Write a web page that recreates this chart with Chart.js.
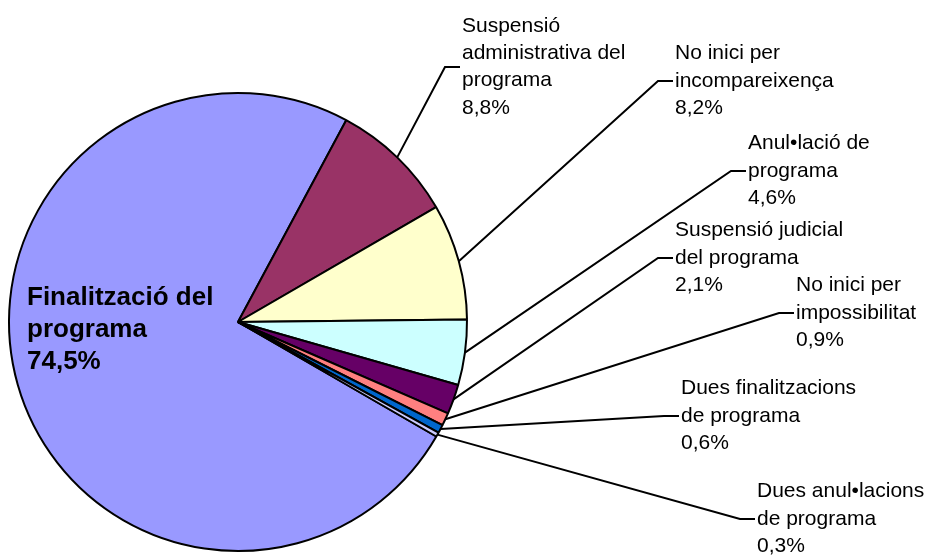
<!DOCTYPE html>
<html>
<head>
<meta charset="utf-8">
<script src="https://cdn.jsdelivr.net/npm/chart.js@4"></script>
<style>
  body { margin: 0; background: #fff; }
  #wrap { width: 929px; height: 557px; }
</style>
</head>
<body>
<div id="wrap"><canvas id="myChart" width="929" height="557"></canvas></div>
<script>
'use strict';

// chart data
var categories = ['Finalització del programa', 'Suspensió administrativa del programa', 'No inici per incompareixença',
    'Anul•lació de programa', 'Suspensió judicial del programa', 'No inici per impossibilitat',
    'Dues finalitzacions de programa', 'Dues anul•lacions de programa'];
var values = [74.5, 8.8, 8.2, 4.6, 2.1, 0.9, 0.6, 0.3];
var labelLines = [
    ['Finalització del', 'programa'],
    ['Suspensió', 'administrativa del', 'programa'],
    ['No inici per', 'incompareixença'],
    ['Anul•lació de', 'programa'],
    ['Suspensió judicial', 'del programa'],
    ['No inici per', 'impossibilitat'],
    ['Dues finalitzacions', 'de programa'],
    ['Dues anul•lacions', 'de programa']
];
var colors = ['#9999FF', '#993366', '#FFFFCC', '#CCFFFF', '#660066', '#FF8080', '#0066CC', '#CCCCFF'];

// where each label box sits (left x, vertical middle)
var labelPos = [
    { x: 27, y: 330 },
    { x: 462, y: 67 },
    { x: 675, y: 81 },
    { x: 748, y: 171 },
    { x: 675, y: 258 },
    { x: 796, y: 313 },
    { x: 681, y: 416 },
    { x: 757, y: 519 }
];

function pct(v) {
    return v.toFixed(1).replace('.', ',') + '%';
}

var labelPlugin = {
    id: 'pieLabels',
    afterDraw: function (chart) {
        var ctx = chart.ctx;
        var meta = chart.getDatasetMeta(0);
        ctx.save();
        ctx.fillStyle = '#000';
        ctx.strokeStyle = '#000';
        ctx.textBaseline = 'middle';
        ctx.textAlign = 'left';
        meta.data.forEach(function (arc, i) {
            var p = arc.getProps(['x', 'y', 'startAngle', 'endAngle', 'outerRadius'], true);
            var lines = labelLines[i].concat([pct(values[i])]);
            var pos = labelPos[i];
            var lh, font;
            if (i === 0) {
                lh = 32;
                font = 'bold 26px "Liberation Sans", Arial, sans-serif';
            } else {
                lh = 27.3;
                font = '21px "Liberation Sans", Arial, sans-serif';
                var mid = (p.startAngle + p.endAngle) / 2;
                var ax = p.x + Math.cos(mid) * p.outerRadius;
                var ay = p.y + Math.sin(mid) * p.outerRadius;
                ctx.lineWidth = 2;
                ctx.beginPath();
                ctx.moveTo(ax, ay);
                ctx.lineTo(pos.x - 17, pos.y);
                ctx.lineTo(pos.x - 2, pos.y);
                ctx.stroke();
            }
            ctx.font = font;
            lines.forEach(function (t, k) {
                ctx.fillText(t, pos.x, pos.y + (k - (lines.length - 1) / 2) * lh);
            });
        });
        ctx.restore();
    }
};

var ctx = document.getElementById('myChart').getContext('2d');
var chart = new Chart(ctx, {
    type: 'pie',
    data: {
        labels: categories,
        datasets: [{
            data: values,
            backgroundColor: colors,
            borderColor: '#000',
            borderWidth: 2
        }]
    },
    options: {
        responsive: false,
        animation: false,
        rotation: 120,
        layout: { padding: { left: 8, right: 461, top: 92, bottom: 5 } },
        plugins: {
            legend: { display: false },
            tooltip: { enabled: false }
        }
    },
    plugins: [labelPlugin]
});
</script>
</body>
</html>
